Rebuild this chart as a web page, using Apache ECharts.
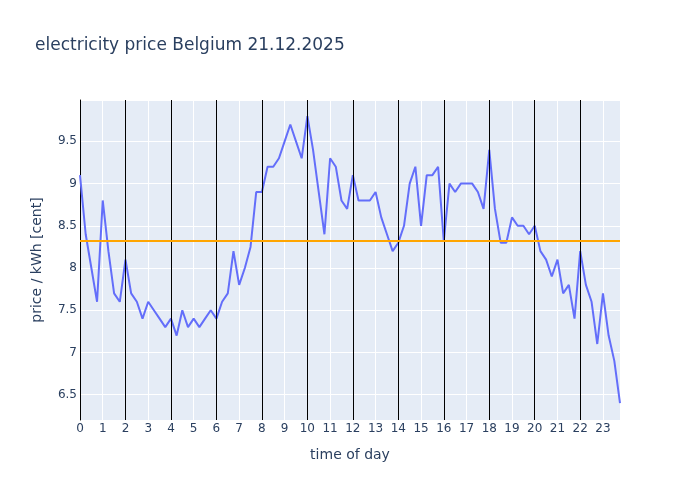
<!DOCTYPE html>
<html>
<head>
<meta charset="utf-8">
<script src="https://cdn.jsdelivr.net/npm/echarts@6/dist/echarts.min.js"></script>
<style>
  html, body { margin: 0; padding: 0; background: #fff; }
  #chart { width: 700px; height: 500px; }
</style>
</head>
<body>
<div id="chart"></div>
<script>
  // prices per quarter hour, 0:00 .. 23:45
  const prices = [
    9.1, 8.4, 8.0, 7.6, 8.8, 8.2, 7.7, 7.6,
    8.1, 7.7, 7.6, 7.4, 7.6, 7.5, 7.4, 7.3,
    7.4, 7.2, 7.5, 7.3, 7.4, 7.3, 7.4, 7.5,
    7.4, 7.6, 7.7, 8.2, 7.8, 8.0, 8.25, 8.9,
    8.9, 9.2, 9.2, 9.3, 9.5, 9.7, 9.5, 9.3,
    9.8, 9.4, 8.9, 8.4, 9.3, 9.2, 8.8, 8.7,
    9.1, 8.8, 8.8, 8.8, 8.9, 8.6, 8.4, 8.2,
    8.3, 8.5, 9.0, 9.2, 8.5, 9.1, 9.1, 9.2,
    8.32, 9.0, 8.9, 9.0, 9.0, 9.0, 8.9, 8.7,
    9.4, 8.7, 8.3, 8.3, 8.6, 8.5, 8.5, 8.4,
    8.5, 8.2, 8.1, 7.9, 8.1, 7.7, 7.8, 7.4,
    8.2, 7.8, 7.6, 7.1, 7.7, 7.2, 6.9, 6.4
  ]
  const avgPrice = 8.32
  const markHours = ['2:00', '4:00', '6:00', '8:00', '10:00', '12:00', '14:00', '16:00', '18:00', '20:00', '22:00']

  // quarter hour categories
  const times = []
  for (let h = 0; h < 24; h++) {
    for (const m of ['00', '15', '30', '45']) times.push(h + ':' + m)
  }

  const font = '"DejaVu Sans", Verdana, sans-serif'
  const txt = '#2a3f5f'

  const myChart = echarts.init(document.getElementById('chart'))
  myChart.setOption({
    animation: false,
    backgroundColor: '#fff',
    title: {
      text: 'electricity price Belgium 21.12.2025',
      left: 30,
      top: 32,
      textStyle: { fontFamily: font, fontSize: 17, fontWeight: 'normal', color: txt }
    },
    grid: {
      left: 80,
      right: 80,
      top: 100,
      bottom: 80,
      show: true,
      backgroundColor: '#E5ECF6',
      borderWidth: 0
    },
    xAxis: {
      type: 'category',
      data: times,
      boundaryGap: false,
      name: 'time of day',
      nameLocation: 'middle',
      nameGap: 28,
      nameTextStyle: { fontFamily: font, fontSize: 14, color: txt },
      axisLine: { show: false },
      axisTick: { show: false },
      axisLabel: {
        interval: 3,
        fontFamily: font,
        fontSize: 12,
        color: txt,
        margin: 3,
        formatter: (v) => v.split(':')[0]
      },
      splitLine: { show: true, interval: 3, lineStyle: { color: '#fff', width: 1 } }
    },
    yAxis: {
      type: 'value',
      min: 6.2,
      max: 9.99,
      minInterval: 0.5,
      maxInterval: 0.5,
      name: 'price / kWh [cent]',
      nameLocation: 'middle',
      nameGap: 36,
      nameTextStyle: { fontFamily: font, fontSize: 14, color: txt },
      axisLine: { show: true, lineStyle: { color: '#000', width: 1 } },
      axisTick: { show: false },
      axisLabel: {
        fontFamily: font,
        fontSize: 12,
        color: txt,
        margin: 3,
        showMinLabel: false,
        showMaxLabel: false
      },
      splitLine: { show: true, lineStyle: { color: '#fff', width: 1 } }
    },
    series: [{
      name: 'price',
      type: 'line',
      data: prices,
      symbol: 'none',
      lineStyle: { color: '#636EFA', width: 2 },
      z: 3,
      markLine: {
        silent: true,
        symbol: 'none',
        label: { show: false },
        animation: false,
        data: markHours.map((t) => ({ xAxis: t, lineStyle: { color: '#000', width: 1, type: 'solid' } }))
          .concat([{ yAxis: avgPrice, lineStyle: { color: '#FFA500', width: 2, type: 'solid' } }])
      }
    }]
  })
</script>
</body>
</html>
